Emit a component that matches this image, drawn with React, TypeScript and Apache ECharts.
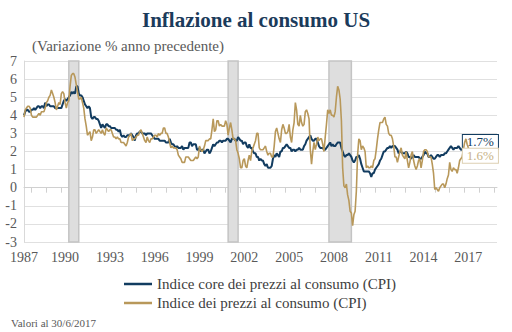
import React, { useEffect, useRef } from "react";
import * as echarts from "echarts";

// Monthly YoY % values, starting July 1987, ending June 2017
const coreCPI: number[] = [
  // 1987 Jul-Dec
  4.0, 4.2, 4.3, 4.3, 4.2, 4.2,
  // 1988
  4.3, 4.3, 4.4, 4.3, 4.4, 4.5, 4.5, 4.4, 4.5, 4.5, 4.4, 4.7,
  // 1989
  4.5, 4.6, 4.6, 4.5, 4.5, 4.5, 4.5, 4.4, 4.4, 4.4, 4.4, 4.4,
  // 1990
  4.4, 4.6, 4.8, 4.9, 4.8, 4.9, 5.0, 5.1, 5.3, 5.2, 5.3, 5.2,
  // 1991
  5.6, 5.6, 5.2, 5.1, 5.1, 5.0, 4.8, 4.6, 4.5, 4.4, 4.5, 4.4,
  // 1992
  3.9, 3.8, 3.9, 3.9, 3.8, 3.8, 3.7, 3.5, 3.3, 3.5, 3.4, 3.3,
  // 1993
  3.5, 3.5, 3.4, 3.4, 3.3, 3.3, 3.3, 3.3, 3.2, 3.2, 3.1, 3.2,
  // 1994
  2.9, 2.8, 2.9, 2.8, 2.8, 2.9, 2.9, 2.9, 3.0, 2.9, 2.8, 2.6,
  // 1995
  2.9, 3.0, 3.0, 3.1, 3.1, 3.0, 3.0, 3.0, 2.9, 3.0, 3.0, 3.0,
  // 1996
  3.0, 2.9, 2.8, 2.7, 2.7, 2.7, 2.7, 2.6, 2.6, 2.6, 2.6, 2.6,
  // 1997
  2.5, 2.5, 2.5, 2.7, 2.5, 2.4, 2.4, 2.3, 2.2, 2.3, 2.2, 2.2,
  // 1998
  2.2, 2.3, 2.1, 2.2, 2.2, 2.2, 2.2, 2.5, 2.5, 2.3, 2.4, 2.4,
  // 1999
  2.4, 2.1, 2.1, 2.2, 2.0, 2.1, 2.1, 1.9, 2.0, 2.1, 2.1, 1.9,
  // 2000
  2.0, 2.2, 2.4, 2.3, 2.4, 2.5, 2.5, 2.6, 2.6, 2.5, 2.6, 2.6,
  // 2001
  2.6, 2.7, 2.7, 2.6, 2.5, 2.7, 2.7, 2.7, 2.6, 2.6, 2.8, 2.7,
  // 2002
  2.6, 2.6, 2.4, 2.5, 2.5, 2.3, 2.2, 2.4, 2.2, 2.2, 2.0, 1.9,
  // 2003
  1.9, 1.7, 1.7, 1.5, 1.6, 1.5, 1.5, 1.3, 1.2, 1.3, 1.1, 1.1,
  // 2004
  1.1, 1.2, 1.6, 1.8, 1.7, 1.9, 1.8, 1.7, 2.0, 2.0, 2.2, 2.2,
  // 2005
  2.3, 2.4, 2.3, 2.2, 2.2, 2.0, 2.1, 2.1, 2.0, 2.1, 2.1, 2.2,
  // 2006
  2.1, 2.1, 2.1, 2.3, 2.4, 2.6, 2.7, 2.8, 2.9, 2.7, 2.6, 2.6,
  // 2007
  2.7, 2.7, 2.5, 2.3, 2.2, 2.2, 2.2, 2.1, 2.1, 2.2, 2.3, 2.4,
  // 2008
  2.5, 2.3, 2.4, 2.3, 2.3, 2.4, 2.5, 2.5, 2.5, 2.2, 2.0, 1.8,
  // 2009
  1.7, 1.8, 1.8, 1.9, 1.8, 1.7, 1.5, 1.4, 1.5, 1.7, 1.7, 1.8,
  // 2010
  1.6, 1.3, 1.1, 0.9, 0.9, 0.9, 0.9, 0.9, 0.8, 0.6, 0.8, 0.8,
  // 2011
  1.0, 1.1, 1.2, 1.3, 1.5, 1.6, 1.8, 2.0, 2.0, 2.1, 2.2, 2.2,
  // 2012
  2.3, 2.2, 2.3, 2.3, 2.3, 2.2, 2.1, 1.9, 2.0, 2.0, 1.9, 1.9,
  // 2013
  1.9, 2.0, 1.9, 1.7, 1.7, 1.6, 1.7, 1.8, 1.7, 1.7, 1.7, 1.7,
  // 2014
  1.6, 1.6, 1.7, 1.8, 2.0, 1.9, 1.9, 1.7, 1.7, 1.8, 1.7, 1.6,
  // 2015
  1.6, 1.7, 1.8, 1.8, 1.7, 1.8, 1.8, 1.8, 1.9, 1.9, 2.0, 2.1,
  // 2016
  2.2, 2.3, 2.2, 2.1, 2.2, 2.2, 2.2, 2.3, 2.2, 2.1, 2.1, 2.2,
  // 2017 Jan-Jun
  2.3, 2.2, 2.0, 1.9, 1.7, 1.7,
];

const headlineCPI: number[] = [
  // 1987 Jul-Dec
  3.9, 4.3, 4.4, 4.5, 4.5, 4.4,
  // 1988
  4.0, 3.9, 3.9, 3.9, 3.9, 4.0, 4.1, 4.0, 4.2, 4.2, 4.2, 4.4,
  // 1989
  4.7, 4.8, 5.0, 5.1, 5.4, 5.2, 5.0, 4.7, 4.3, 4.5, 4.7, 4.6,
  // 1990
  5.2, 5.3, 5.2, 4.7, 4.4, 4.7, 4.8, 5.6, 6.2, 6.3, 6.3, 6.1,
  // 1991
  5.7, 5.3, 4.9, 4.9, 5.0, 4.7, 4.4, 3.8, 3.4, 2.9, 3.0, 3.1,
  // 1992
  2.6, 2.8, 3.2, 3.2, 3.0, 3.1, 3.2, 3.1, 3.0, 3.2, 3.0, 2.9,
  // 1993
  3.3, 3.2, 3.1, 3.2, 3.2, 3.0, 2.8, 2.8, 2.7, 2.8, 2.7, 2.7,
  // 1994
  2.5, 2.5, 2.5, 2.4, 2.3, 2.5, 2.8, 2.9, 3.0, 2.6, 2.7, 2.7,
  // 1995
  2.8, 2.9, 2.9, 3.1, 3.2, 3.0, 2.8, 2.6, 2.5, 2.8, 2.6, 2.5,
  // 1996
  2.7, 2.7, 2.8, 2.9, 2.9, 2.8, 3.0, 2.9, 3.0, 3.0, 3.3, 3.3,
  // 1997
  3.0, 3.0, 2.8, 2.5, 2.2, 2.3, 2.2, 2.2, 2.2, 2.1, 1.8, 1.7,
  // 1998
  1.6, 1.4, 1.4, 1.4, 1.7, 1.7, 1.7, 1.6, 1.5, 1.5, 1.5, 1.6,
  // 1999
  1.7, 1.6, 1.7, 2.3, 2.1, 2.0, 2.1, 2.3, 2.6, 2.6, 2.6, 2.7,
  // 2000
  2.7, 3.2, 3.8, 3.1, 3.2, 3.7, 3.7, 3.4, 3.5, 3.4, 3.4, 3.4,
  // 2001
  3.7, 3.5, 2.9, 3.3, 3.6, 3.2, 2.7, 2.7, 2.6, 2.1, 1.9, 1.6,
  // 2002
  1.1, 1.1, 1.5, 1.6, 1.2, 1.1, 1.5, 1.8, 1.5, 2.0, 2.2, 2.4,
  // 2003
  2.6, 3.0, 3.0, 2.2, 2.1, 2.1, 2.1, 2.2, 2.3, 2.0, 1.8, 1.9,
  // 2004
  1.9, 1.7, 1.7, 2.3, 3.1, 3.3, 3.0, 2.7, 2.5, 3.2, 3.5, 3.3,
  // 2005
  3.0, 3.0, 3.1, 3.5, 2.8, 2.5, 3.2, 3.6, 4.7, 4.3, 3.5, 3.4,
  // 2006
  4.0, 3.6, 3.4, 3.5, 4.2, 4.3, 4.1, 3.8, 2.1, 1.3, 2.0, 2.5,
  // 2007
  2.1, 2.4, 2.8, 2.6, 2.7, 2.7, 2.4, 2.0, 2.8, 3.5, 4.3, 4.1,
  // 2008
  4.3, 4.0, 4.0, 3.9, 4.2, 5.0, 5.6, 5.4, 4.9, 3.7, 1.1, 0.1,
  // 2009
  0.0, 0.2, -0.4, -0.7, -1.3, -1.4, -2.1, -1.5, -1.3, -0.2, 1.8, 2.7,
  // 2010
  2.6, 2.1, 2.3, 2.2, 2.0, 1.1, 1.2, 1.1, 1.1, 1.2, 1.1, 1.5,
  // 2011
  1.6, 2.1, 2.7, 3.2, 3.6, 3.6, 3.6, 3.8, 3.9, 3.5, 3.4, 3.0,
  // 2012
  2.9, 2.9, 2.7, 2.3, 1.7, 1.7, 1.4, 1.7, 2.0, 2.2, 1.8, 1.7,
  // 2013
  1.6, 2.0, 1.5, 1.1, 1.4, 1.8, 2.0, 1.5, 1.2, 1.0, 1.2, 1.5,
  // 2014
  1.6, 1.1, 1.5, 2.0, 2.1, 2.1, 2.0, 1.7, 1.7, 1.7, 1.3, 0.8,
  // 2015
  -0.1, 0.0, -0.1, -0.2, 0.0, 0.1, 0.2, 0.2, 0.0, 0.2, 0.5, 0.7,
  // 2016
  1.4, 1.0, 0.9, 1.1, 1.0, 1.0, 0.8, 1.1, 1.5, 1.6, 1.7, 2.1,
  // 2017 Jan-Jun
  2.5, 2.7, 2.4, 2.2, 1.9, 1.6,
];

const xTickLabels: string[] = ["1987", "1990", "1993", "1996", "1999", "2002", "2005", "2008", "2011", "2014", "2017"];
const recessionStart: string[] = ["1990-07", "2001-03", "2007-12"];
const recessionEnd: string[] = ["1991-03", "2001-11", "2009-06"];

const seriesNames: string[] = ["Indice core dei prezzi al consumo (CPI)", "Indice dei prezzi al consumo (CPI)"];

// Monthly category axis from 1987-07 to 2019-03
const months: string[] = [];
for (let y = 1987; y <= 2019; y++) {
  for (let m = 1; m <= 12; m++) {
    if (y === 1987 && m < 7) continue;
    if (y === 2019 && m > 3) break;
    months.push(`${y}-${String(m).padStart(2, "0")}`);
  }
}

const NAVY = "#123c60";
const GOLD = "#b8985a";
const SERIF = "'Liberation Serif', 'Times New Roman', serif";

export default function App() {
  const ref = useRef<HTMLDivElement>(null);
  useEffect(() => {
    if (!ref.current) return;
    document.body.style.margin = "0";
    const chart = echarts.init(ref.current, undefined, { renderer: "svg" });
    chart.setOption({
      animation: false,
      textStyle: { fontFamily: SERIF },
      title: [
        {
          text: "Inflazione al consumo US",
          left: "center",
          top: 4,
          textStyle: { fontFamily: SERIF, fontSize: 21, fontWeight: "bold", color: "#1b3b5b" },
        },
        {
          text: "(Variazione % anno precedente)",
          left: 27,
          top: 33,
          textStyle: { fontFamily: SERIF, fontSize: 15, fontWeight: "normal", color: "#595959" },
        },
        {
          text: "Valori al 30/6/2017",
          left: 6,
          top: 312,
          textStyle: { fontFamily: SERIF, fontSize: 11, fontWeight: "normal", color: "#595959" },
        },
      ],
      legend: {
        data: seriesNames,
        orient: "vertical",
        left: 124,
        top: 276,
        icon: "rect",
        itemWidth: 28,
        itemHeight: 2.5,
        itemGap: 3,
        padding: 0,
        textStyle: { fontFamily: SERIF, fontSize: 15, color: "#404040", lineHeight: 16 },
      },
      grid: { left: 24, right: 15, top: 61, bottom: 90, containLabel: false },
      xAxis: {
        type: "category",
        data: months,
        boundaryGap: false,
        axisLine: { show: true, lineStyle: { color: "#d0d0d0", width: 1 } },
        axisTick: {
          show: true,
          length: 5,
          lineStyle: { color: "#d0d0d0" },
          interval: (_i: number, v: string) => v.endsWith("-01"),
        },
        axisLabel: {
          interval: (_i: number, v: string) => {
            const y = v.slice(0, 4);
            const m = v.slice(5);
            return xTickLabels.includes(y) && (y === "1987" ? m === "07" : m === "04");
          },
          formatter: (v: string) => v.slice(0, 4),
          fontFamily: SERIF,
          fontSize: 14,
          color: "#595959",
          margin: 8,
        },
        splitLine: { show: false },
      },
      yAxis: {
        type: "value",
        min: -3,
        max: 7,
        interval: 1,
        axisLine: { show: true, lineStyle: { color: "#d9d9d9" } },
        axisTick: { show: false },
        axisLabel: { fontFamily: SERIF, fontSize: 14, color: "#595959", margin: 7 },
        splitLine: { show: true, lineStyle: { color: "#e0e0e0", width: 1 } },
      },
      series: [
        {
          name: seriesNames[0],
          type: "line",
          data: coreCPI,
          symbol: "none",
          lineStyle: { color: NAVY, width: 2 },
          itemStyle: { color: NAVY },
          z: 3,
          endLabel: {
            show: true,
            formatter: (p: any) => `${Number(p.value).toFixed(1)}%`,
            distance: 0,
            offset: [-8, -15],
            fontFamily: SERIF,
            fontSize: 13,
            lineHeight: 13,
            color: NAVY,
            backgroundColor: "#ffffff",
            borderColor: NAVY,
            borderWidth: 1,
            padding: [1, 4, 0, 4],
          },
          markArea: {
            silent: true,
            itemStyle: { color: "#dedede", borderColor: "#c4c4c4", borderWidth: 1.5 },
            data: recessionStart.map((s, i) => [{ xAxis: s }, { xAxis: recessionEnd[i] }]),
          },
        },
        {
          name: seriesNames[1],
          type: "line",
          data: headlineCPI,
          symbol: "none",
          lineStyle: { color: GOLD, width: 1.6 },
          itemStyle: { color: GOLD },
          z: 4,
          endLabel: {
            show: true,
            formatter: (p: any) => `${Number(p.value).toFixed(1)}%`,
            distance: 0,
            offset: [-8, -3],
            fontFamily: SERIF,
            fontSize: 13,
            lineHeight: 13,
            color: "#c7b286",
            backgroundColor: "#ffffff",
            borderColor: "#ddd0b2",
            borderWidth: 1,
            padding: [1, 4, 0, 4],
          },
        },
      ],
    });
    return () => chart.dispose();
  }, []);
  return <div ref={ref} style={{ width: 512, height: 332 }} />;
}
